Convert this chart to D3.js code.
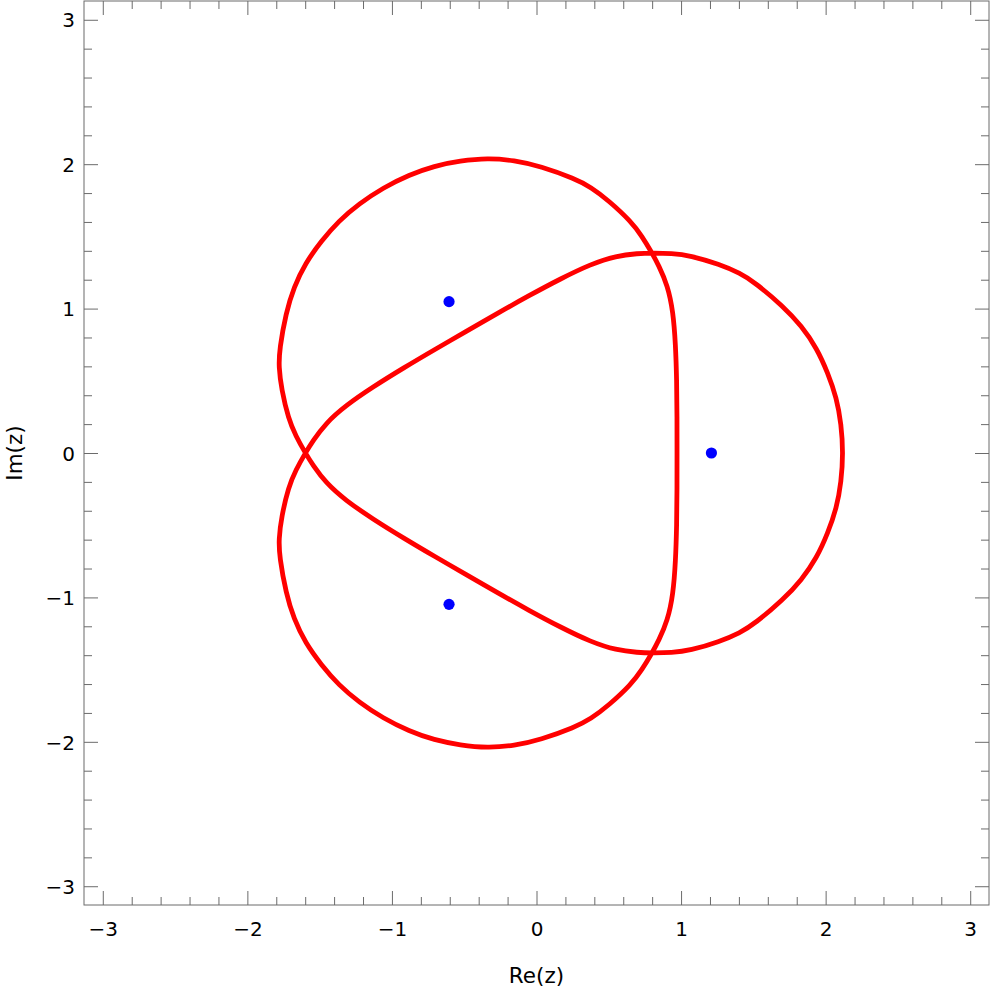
<!DOCTYPE html>
<html>
<head>
<meta charset="utf-8">
<script src="https://cdn.jsdelivr.net/npm/d3@7"></script>
<style>
  html, body { margin: 0; padding: 0; background: #fff; }
  svg { display: block; }
  text { font-family: "DejaVu Sans", sans-serif; fill: #000; }
</style>
</head>
<body>
<svg id="chart" width="996" height="993"></svg>
<script>
// ---- data (complex plane: [Re, Im]), traced in drawing order ----
// inner right side (bottom crossing -> top crossing)
const innerRight = [
  [0.845,-1.30],[0.907,-1.16],[0.945,-0.98],[0.962,-0.75],[0.970,-0.50],[0.972,-0.25],
  [0.972,0],[0.972,0.25],[0.970,0.50],[0.962,0.75],[0.945,0.98],[0.907,1.16],[0.845,1.30],[0.799,1.385]
];
// outer upper-left lobe (top crossing -> left crossing)
const lobeUpperLeft = [
  [0.730,1.501],[0.654,1.604],[0.498,1.749],[0.376,1.841],[0.266,1.899],[0.026,1.986],
  [-0.154,2.027],[-0.339,2.042],[-0.527,2.023],[-0.708,1.988],[-0.881,1.926],[-1.061,1.837],
  [-1.227,1.726],[-1.368,1.607],[-1.488,1.468],[-1.599,1.315],[-1.679,1.147],[-1.733,0.971],
  [-1.778,0.719],[-1.783,0.596],[-1.764,0.443],[-1.716,0.236],[-1.665,0.118],[-1.599,0]
];
// inner lower-left side (left crossing -> bottom crossing)
const innerLowerLeft = [
  [-1.548,-0.082],[-1.458,-0.206],[-1.321,-0.328],[-1.131,-0.458],[-0.918,-0.590],[-0.703,-0.717],
  [-0.486,-0.842],[-0.270,-0.967],[-0.052,-1.090],[0.169,-1.208],[0.376,-1.308],[0.551,-1.365],
  [0.703,-1.382],[0.799,-1.385]
];
// outer right lobe (bottom crossing -> top crossing)
const lobeRight = [
  [0.935,-1.383],[1.062,-1.368],[1.266,-1.306],[1.407,-1.246],[1.512,-1.180],[1.707,-1.015],
  [1.833,-0.880],[1.938,-0.727],[2.015,-0.555],[2.076,-0.381],[2.108,-0.200],[2.121,0],
  [2.108,0.200],[2.076,0.381],[2.015,0.555],[1.938,0.727],[1.833,0.880],[1.707,1.015],
  [1.512,1.180],[1.407,1.246],[1.266,1.306],[1.062,1.368],[0.935,1.383],[0.799,1.385]
];
// inner upper-left side (top crossing -> left crossing)
const innerUpperLeft = [
  [0.703,1.382],[0.551,1.365],[0.376,1.308],[0.169,1.208],[-0.052,1.090],[-0.270,0.967],
  [-0.486,0.842],[-0.703,0.717],[-0.918,0.590],[-1.131,0.458],[-1.321,0.328],[-1.458,0.206],
  [-1.548,0.082],[-1.599,0]
];
// outer lower-left lobe (left crossing -> bottom crossing)
const lobeLowerLeft = [
  [-1.665,-0.118],[-1.716,-0.236],[-1.764,-0.443],[-1.783,-0.596],[-1.778,-0.719],[-1.733,-0.971],
  [-1.679,-1.147],[-1.599,-1.315],[-1.488,-1.468],[-1.368,-1.607],[-1.227,-1.726],[-1.061,-1.837],
  [-0.881,-1.926],[-0.708,-1.988],[-0.527,-2.023],[-0.339,-2.042],[-0.154,-2.027],[0.026,-1.986],
  [0.266,-1.899],[0.376,-1.841],[0.498,-1.749],[0.654,-1.604],[0.730,-1.501],[0.799,-1.385]
];
// blue points (roots)
const rootsRe = [1.21, -0.605, -0.605];
const rootsIm = [0, 1.048, -1.048];

const majorTicks = [-3, -2, -1, 0, 1, 2, 3];
const minorTicks = [-2.8,-2.6,-2.4,-2.2,-1.8,-1.6,-1.4,-1.2,-0.8,-0.6,-0.4,-0.2,
                    0.2,0.4,0.6,0.8,1.2,1.4,1.6,1.8,2.2,2.4,2.6,2.8];
const xTitle = "Re(z)";
const yTitle = "Im(z)";

// ---- layout ----
const svg = d3.select("#chart");
const mLeft = 84, mRight = 989, mTop = 1, mBottom = 905;
const x = d3.scaleLinear().domain([-3.13, 3.13]).range([mLeft, mRight]);
const y = d3.scaleLinear().domain([-3.13, 3.13]).range([mBottom, mTop]);

const frameColor = "#6b6b6b";
const fmt = d => d < 0 ? "\u2212" + Math.abs(d) : String(d);

function styleAxis(g) {
  g.select(".domain").remove();
  g.selectAll("line").attr("stroke", frameColor).attr("stroke-width", 1);
}

// bottom
svg.append("g").attr("transform", `translate(0,${mBottom})`)
  .call(d3.axisBottom(x).tickValues(majorTicks).tickSize(-14).tickFormat(fmt))
  .call(styleAxis)
  .call(g => g.selectAll("text").attr("y", 31).attr("dy", 0).attr("font-size", 20)
    .attr("font-family", "DejaVu Sans").attr("fill", "#000"));
svg.append("g").attr("transform", `translate(0,${mBottom})`)
  .call(d3.axisBottom(x).tickValues(minorTicks).tickSize(-8).tickFormat(""))
  .call(styleAxis);
// top
svg.append("g").attr("transform", `translate(0,${mTop})`)
  .call(d3.axisTop(x).tickValues(majorTicks).tickSize(-14).tickFormat(""))
  .call(styleAxis);
svg.append("g").attr("transform", `translate(0,${mTop})`)
  .call(d3.axisTop(x).tickValues(minorTicks).tickSize(-8).tickFormat(""))
  .call(styleAxis);
// left
svg.append("g").attr("transform", `translate(${mLeft},0)`)
  .call(d3.axisLeft(y).tickValues(majorTicks).tickSize(-14).tickFormat(fmt))
  .call(styleAxis)
  .call(g => g.selectAll("text").attr("x", -9).attr("dy", "0.36em").attr("font-size", 20)
    .attr("font-family", "DejaVu Sans").attr("fill", "#000"));
svg.append("g").attr("transform", `translate(${mLeft},0)`)
  .call(d3.axisLeft(y).tickValues(minorTicks).tickSize(-8).tickFormat(""))
  .call(styleAxis);
// right
svg.append("g").attr("transform", `translate(${mRight},0)`)
  .call(d3.axisRight(y).tickValues(majorTicks).tickSize(-14).tickFormat(""))
  .call(styleAxis);
svg.append("g").attr("transform", `translate(${mRight},0)`)
  .call(d3.axisRight(y).tickValues(minorTicks).tickSize(-8).tickFormat(""))
  .call(styleAxis);

// frame
svg.append("rect")
  .attr("x", mLeft).attr("y", mTop)
  .attr("width", mRight - mLeft).attr("height", mBottom - mTop)
  .attr("fill", "none").attr("stroke", frameColor).attr("stroke-width", 1);

// axis titles
svg.append("text").attr("x", (mLeft + mRight) / 2).attr("y", 983)
  .attr("text-anchor", "middle").attr("font-size", 21.5).text(xTitle);
svg.append("text").attr("transform", `translate(22,${y(0)}) rotate(-90)`)
  .attr("text-anchor", "middle").attr("font-size", 21.5).text(yTitle);

// curve (smoothing spline through the traced points)
const curvePts = [].concat(innerRight, lobeUpperLeft, innerLowerLeft, lobeRight, innerUpperLeft, lobeLowerLeft);
const line = d3.line()
  .x(d => x(d[0])).y(d => y(d[1]))
  .curve(d3.curveBasisClosed);
svg.append("path")
  .attr("d", line(curvePts))
  .attr("fill", "none")
  .attr("stroke", "#ff0000")
  .attr("stroke-width", 4.8)
  .attr("stroke-linejoin", "round");

// roots
svg.append("g").selectAll("circle")
  .data(rootsRe.map((r, i) => [r, rootsIm[i]]))
  .join("circle")
  .attr("cx", d => x(d[0])).attr("cy", d => y(d[1]))
  .attr("r", 5.6)
  .attr("fill", "#0000ff");
</script>
</body>
</html>
